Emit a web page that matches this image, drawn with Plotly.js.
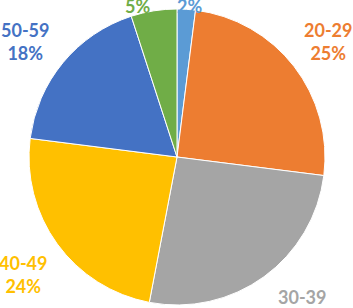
<!DOCTYPE html>
<html>
<head>
<meta charset="utf-8">
<script src="https://cdn.plot.ly/plotly-3.0.1.min.js"></script>
<style>
  html, body { margin: 0; padding: 0; background: #ffffff; }
  #chart { width: 353px; height: 308px; }
</style>
</head>
<body>
<div id="chart"></div>
<script>
// Age groups and their share of respondents (%)
const categories = ['<20', '20-29', '30-39', '40-49', '50-59', '60+'];
const shares = [2, 25, 26, 24, 18, 5];
const sliceColors = ['#5B9BD5', '#ED7D31', '#A5A5A5', '#FFC000', '#4472C4', '#70AD47'];

// Layout: pie centre and radius in pixels, label distance and per-label nudges
const W = 353, H = 308;
const cx = 177, cy = 157, R = 148;
const labelRadius = 190;
const labelNudge = [[1, 27], [1, 1], [13, -2], [0, 6], [-6, 6], [-10, 25]];

const trace = {
  type: 'pie',
  values: shares,
  labels: categories,
  sort: false,
  direction: 'clockwise',
  rotation: 0,
  textinfo: 'none',
  hoverinfo: 'label+percent',
  marker: { colors: sliceColors, line: { color: '#ffffff', width: 1 } },
  domain: {
    x: [(cx - R) / W, (cx + R) / W],
    y: [(H - cy - R) / H, (H - cy + R) / H]
  },
  showlegend: false
};

// Data labels placed outside each slice, at the slice's mid-angle
const total = shares.reduce((a, b) => a + b, 0);
let cum = 0;
const annotations = shares.map((v, i) => {
  const mid = (cum + v / 2) / total * 2 * Math.PI;
  cum += v;
  const px = cx + labelRadius * Math.sin(mid) + labelNudge[i][0];
  const py = cy - labelRadius * Math.cos(mid) + labelNudge[i][1];
  return {
    xref: 'paper', yref: 'paper',
    x: px / W, y: 1 - py / H,
    xanchor: 'center', yanchor: 'middle',
    align: 'center',
    showarrow: false,
    text: '<b>' + categories[i] + '<br>' + v + '%</b>',
    font: { family: 'Lato, "Open Sans", sans-serif', size: 18, color: sliceColors[i] }
  };
});

const layout = {
  width: W, height: H,
  margin: { l: 0, r: 0, t: 0, b: 0 },
  paper_bgcolor: '#ffffff',
  plot_bgcolor: '#ffffff',
  annotations: annotations
};

Plotly.newPlot('chart', [trace], layout, { displayModeBar: false, staticPlot: true });
</script>
</body>
</html>
